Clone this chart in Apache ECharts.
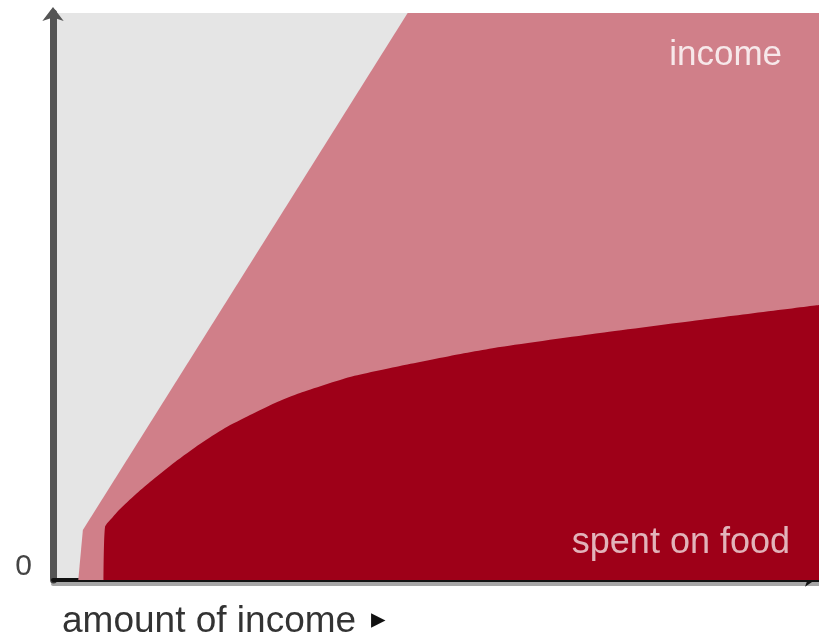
<!DOCTYPE html>
<html>
<head>
<meta charset="utf-8">
<script src="https://cdn.jsdelivr.net/npm/echarts@6/dist/echarts.min.js"></script>
<style>html,body{margin:0;padding:0;background:#fff}#c{width:819px;height:641px}</style>
</head>
<body>
<div id="c"></div>
<script>
// amount of income (0..100) vs amount (0..100)
var incomeX = [3.3, 3.9, 46.3, 100];
var incomeY = [0, 8.8, 100, 100];
var foodX = [6.6, 6.79, 7.7, 8.75, 10.7, 12.66, 15.93, 19.19, 22.45, 25.72, 28.98, 32.25, 38.77, 45.3, 51.83, 58.36, 71.41, 84.46, 100];
var foodY = [0, 9.35, 10.93, 12.52, 14.99, 17.28, 20.81, 23.99, 26.81, 29.1, 31.22, 32.98, 35.8, 37.74, 39.51, 41.09, 43.56, 45.86, 48.5];
var yTickLabels = ['0'];
var seriesNames = ['income', 'spent on food'];
var xAxisTitle = 'amount of income';

function pairs(xs, ys) { return xs.map(function (x, i) { return [x, ys[i]]; }); }

var chart = echarts.init(document.getElementById('c'));
chart.setOption({
  animation: false,
  grid: { left: 53, right: 0, top: 13, bottom: 61, show: true, backgroundColor: '#e5e5e5', borderWidth: 0 },
  xAxis: {
    type: 'value', min: 0, max: 100,
    axisLine: { show: true, symbol: ['none', 'arrow'], symbolSize: [10, 10], symbolOffset: [0, -4],
      lineStyle: { color: '#111', width: 4, shadowColor: 'rgba(0,0,0,0.35)', shadowOffsetY: 4, shadowBlur: 0 } },
    axisTick: { show: false }, axisLabel: { show: false }, splitLine: { show: false }
  },
  yAxis: {
    type: 'value', min: 0, max: 100, interval: 100,
    axisLine: { show: true, symbol: ['none', 'arrow'], symbolSize: [16, 14], symbolOffset: [0, 6],
      lineStyle: { color: '#555', width: 7 } },
    axisTick: { show: false }, splitLine: { show: false },
    axisLabel: {
      show: true, margin: 21, color: '#444', fontSize: 30, fontFamily: 'Liberation Sans',
      verticalAlign: 'bottom', lineHeight: 26,
      formatter: function (v) { return v === 0 ? yTickLabels[0] : ''; }
    }
  },
  series: [
    {
      name: seriesNames[0], type: 'line', data: pairs(incomeX, incomeY), showSymbol: false,
      lineStyle: { width: 0 }, areaStyle: { color: '#d07f89', opacity: 1 }, z: 2
    },
    {
      name: seriesNames[1], type: 'line', data: pairs(foodX, foodY), showSymbol: false,
      smooth: 0.2, lineStyle: { width: 0 }, areaStyle: { color: '#9e0018', opacity: 1 }, z: 3
    }
  ],
  graphic: [
    { type: 'text', z: 10, x: 782, y: 38, style: { text: seriesNames[0], align: 'right', verticalAlign: 'top', font: '35px "Liberation Sans"', fill: 'rgba(255,255,255,0.82)' } },
    { type: 'text', z: 10, x: 790, y: 525, style: { text: seriesNames[1], align: 'right', verticalAlign: 'top', font: '36px "Liberation Sans"', fill: 'rgba(255,255,255,0.7)' } },
    { type: 'text', z: 10, x: 62, y: 603, style: { text: xAxisTitle, align: 'left', verticalAlign: 'top', font: '37px "Liberation Sans"', fill: '#333' } },
    { type: 'text', z: 10, x: 371, y: 606, style: { text: '\u25B8', align: 'left', verticalAlign: 'top', font: '29px "DejaVu Sans"', fill: '#111' } }
  ]
});
</script>
</body>
</html>
